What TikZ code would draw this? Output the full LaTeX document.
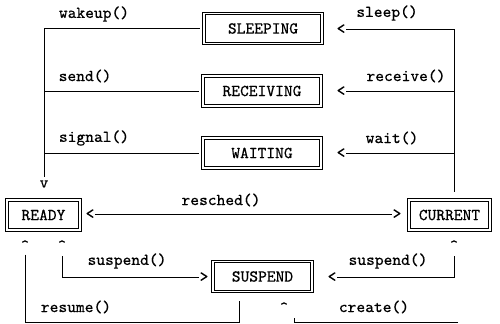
\documentclass[tikz,border=0pt]{standalone}
\usepackage{fontspec}
\setmonofont{Latin Modern Mono}[FakeBold=0.1]
\usetikzlibrary{positioning,calc}

\begin{document}
\begin{tikzpicture}[
    x=0.02cm, y=-0.02cm,
    font=\ttfamily\fontsize{9.5}{11}\selectfont,
    proc/.style={draw, double, line width=0.6pt, double distance=1pt,
                 minimum width=2.36cm, minimum height=0.6cm, inner sep=0pt},
    call/.style={inner sep=0pt},
    head/.style={inner sep=0pt},
    every path/.style={line width=0.45pt},
]
\useasboundingbox (0,0) rectangle (500,324);
% process states
\node[proc] (sleeping) at (263,28.5) {SLEEPING};
\node[proc] (receiving) at (262,91) {RECEIVING};
\node[proc] (waiting) at (262,153) {WAITING};
\node[proc, minimum width=1.46cm] (ready) at (43.5,215) {READY};
\node[proc, minimum width=1.62cm] (current) at (449.5,215) {CURRENT};
\node[proc, minimum width=1.98cm] (suspend) at (262.5,276.5) {SUSPEND};

% typed arrow heads
\node[head] (tv) at (44,184) {v};
\node[head] (tsleep) at (341,29) {<};
\node[head] (treceive) at (341,91) {<};
\node[head] (twait) at (341,153) {<};
\node[head] (tready) at (90,214) {<};
\node[head] (tcur) at (397,214) {>};
\node[head, anchor=north] (tresume) at (25,240) {\textasciicircum};
\node[head, anchor=north] (tsusl) at (62,240) {\textasciicircum};
\node[head, anchor=north] (tsusr) at (454,240) {\textasciicircum};
\node[head] (tsusin) at (204,277) {>};
\node[head] (tsusout) at (332,277) {<};
\node[head, anchor=north] (tcreate) at (284,302) {\textasciicircum};

\coordinate (rbus) at (454,192);
\coordinate (low) at (0,322.5);
\coordinate (newproc) at (458,322.5);

% left side: back to READY
\draw[shorten <=2pt, shorten >=1.5pt] (sleeping.west) -| (tv);
\draw[shorten <=2pt] (receiving.west) -- (receiving.west -| tv);
\draw[shorten <=2pt] (waiting.west) -- (waiting.west -| tv);
\node[call] at (94,14) {wakeup()};
\node[call] at (85,76) {send()};
\node[call] at (94,138) {signal()};

% right side: CURRENT blocks
\draw (rbus) |- (tsleep);
\draw (rbus |- treceive) -- (treceive);
\draw (rbus |- twait) -- (twait);
\node[call] at (387,13) {sleep()};
\node[call] at (406,76) {receive()};
\node[call] at (392,138) {wait()};

% READY <-> CURRENT
\draw (tready) -- (tcur);
\node[call] at (221,200) {resched()};

% SUSPEND in and out
\draw[shorten <=3pt] (tsusl) |- (tsusin);
\node[call] at (127,261) {suspend()};
\draw[shorten <=3pt] (tsusr) |- (tsusout);
\node[call] at (388,261) {suspend()};
\draw[shorten <=2pt] (tresume) -- (tresume |- low)
    -| ([xshift=-13pt,yshift=-5pt]suspend.south);
\node[call] at (76,307) {resume()};
\draw (newproc) -| ([xshift=6pt,yshift=-3pt]tcreate.south);
\node[call] at (374,307) {create()};
\end{tikzpicture}
\end{document}
